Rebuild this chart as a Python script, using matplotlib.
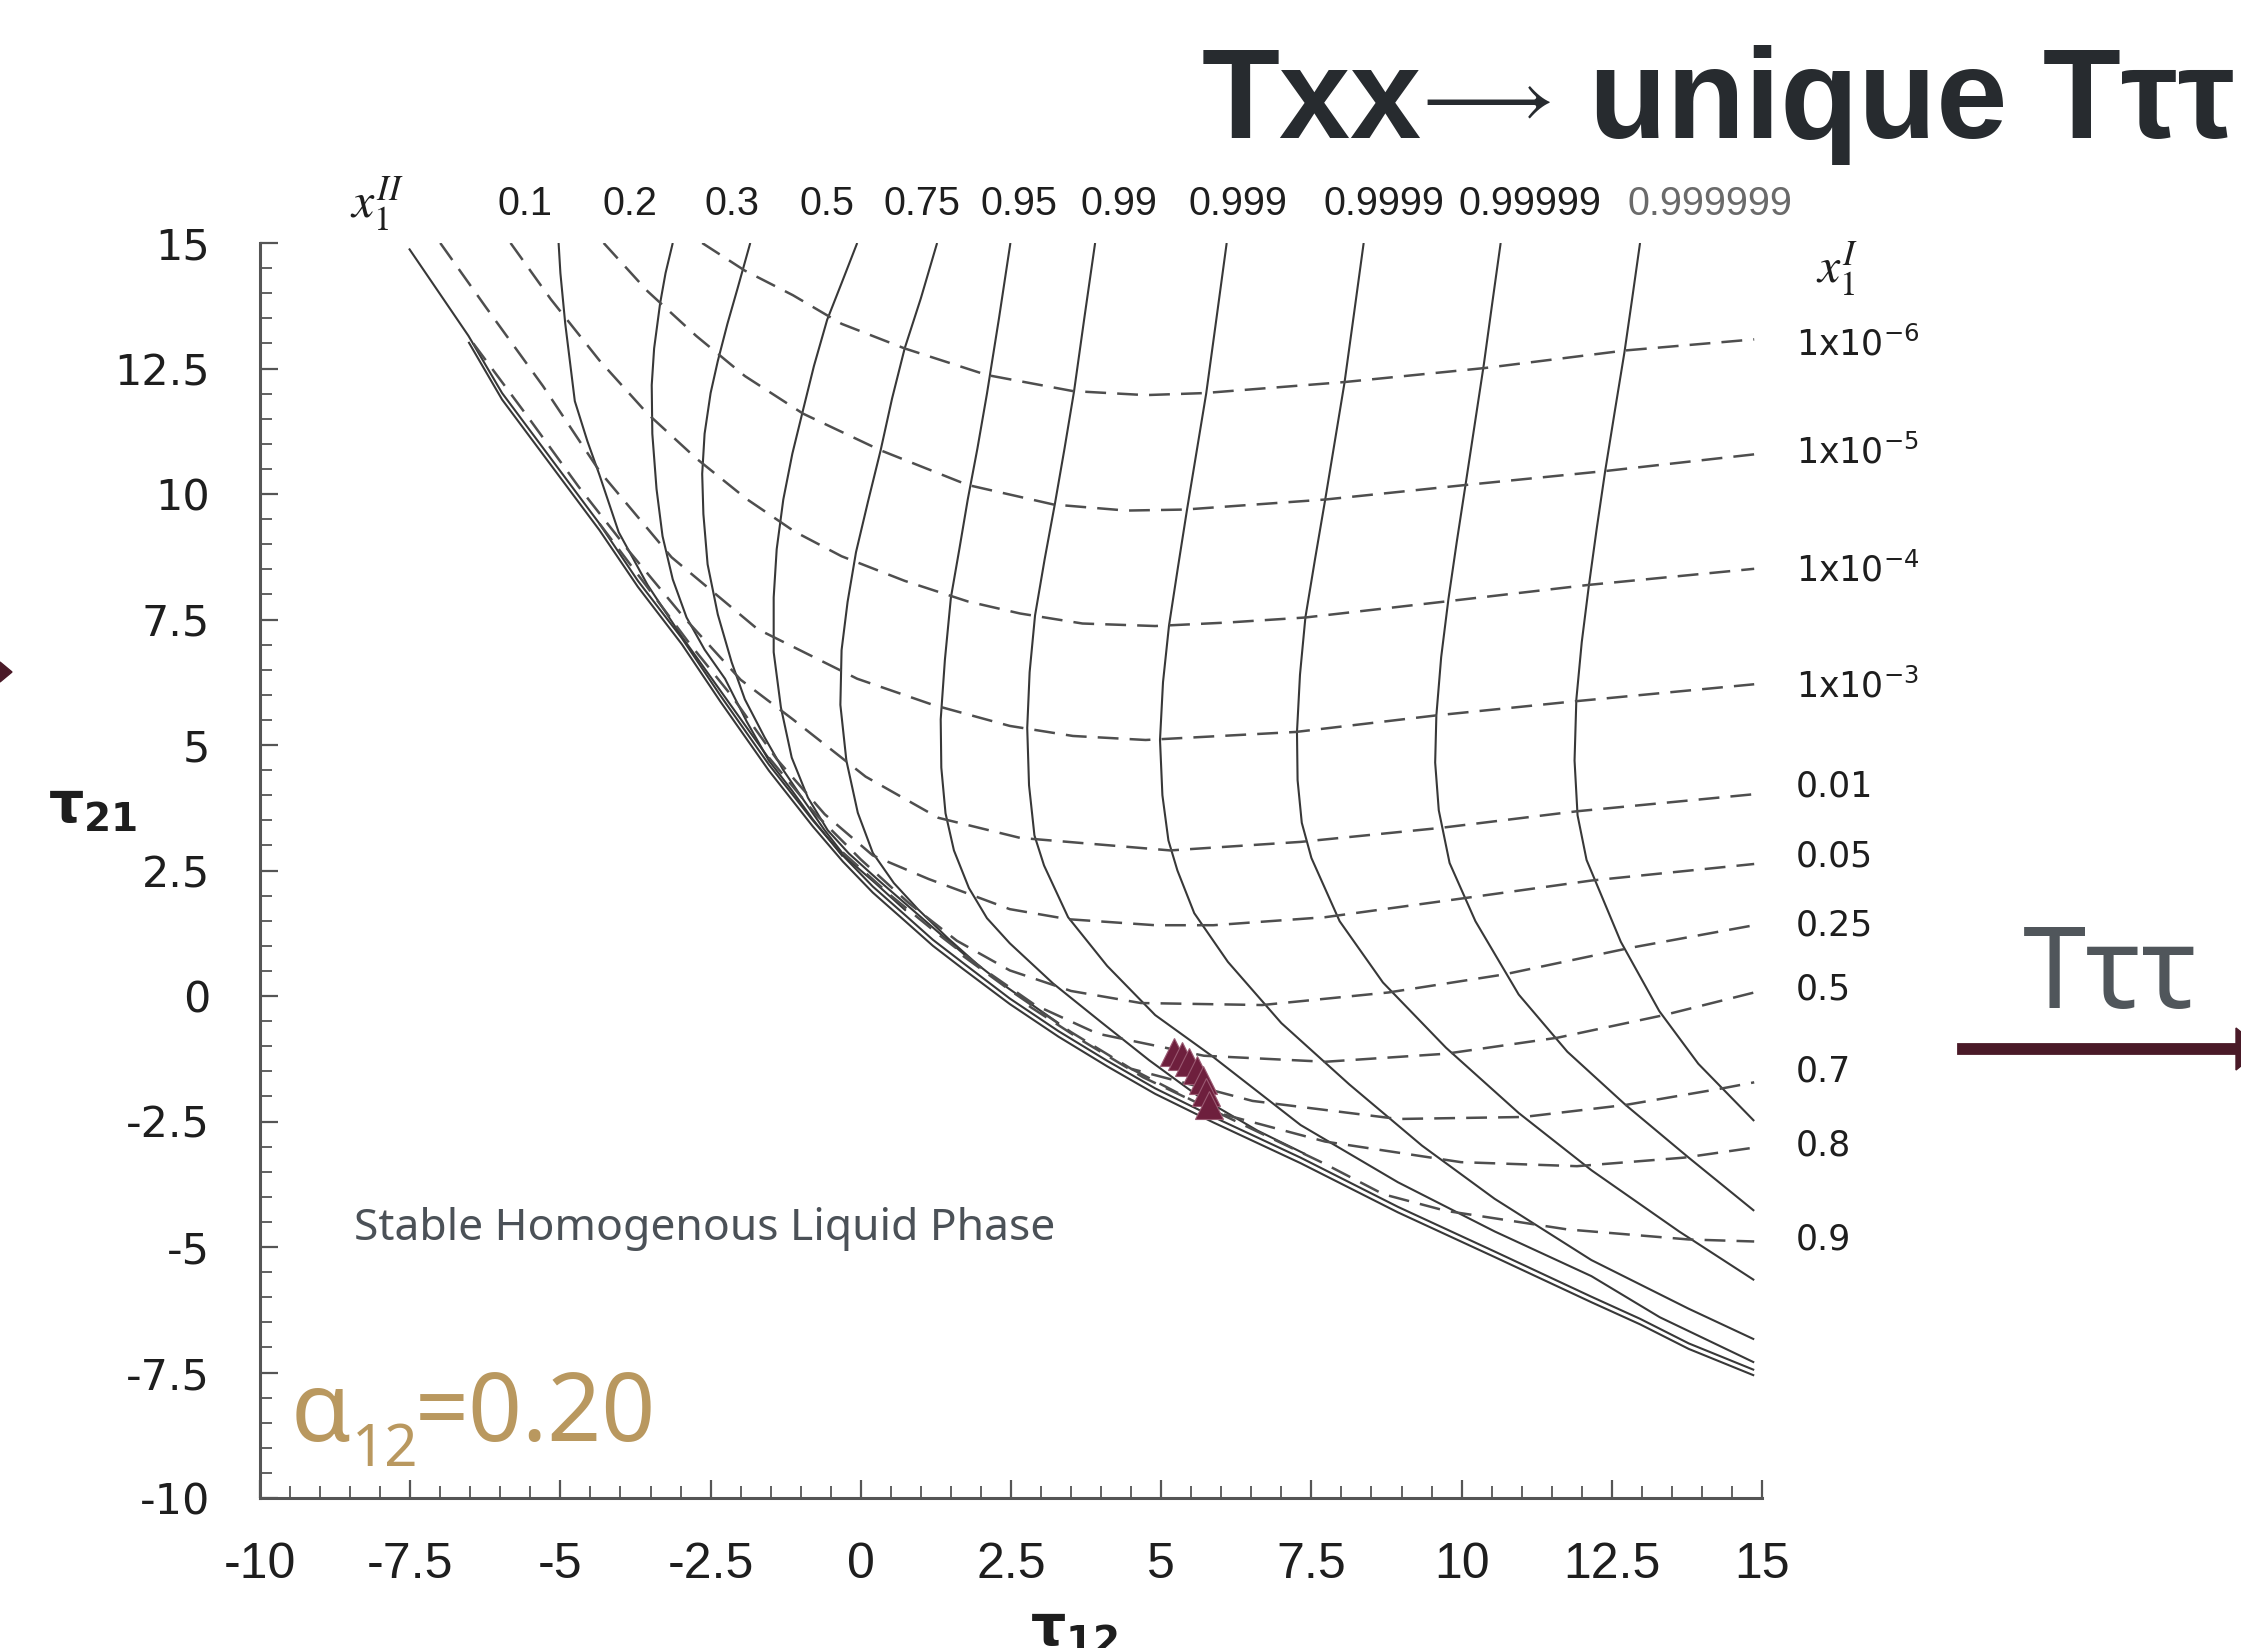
import numpy as np
import matplotlib
matplotlib.use("Agg")
import matplotlib.pyplot as plt
from matplotlib.ticker import MultipleLocator, FixedLocator
from matplotlib.patches import Polygon
from matplotlib.lines import Line2D

plt.rcParams['lines.scale_dashes'] = False

# ---------------- data (tau12, tau21) ----------------
# envelope (limit of liquid-liquid splitting)
env_t12 = [-7.52, -6.53, -5.97, -5.16, -4.35, -3.71, -2.98, -2.34, -1.53, -0.80, -0.30, 0.20, 0.73, 1.20, 1.70, 2.48, 3.29, 4.10, 4.90, 5.87, 7.32, 8.94, 10.55, 12.16, 12.97, 13.78, 14.87]
env_t21 = [14.89, 13.15, 12.01, 10.71, 9.41, 8.27, 7.13, 5.99, 4.61, 3.50, 2.80, 2.18, 1.62, 1.12, 0.66, -0.05, -0.70, -1.29, -1.84, -2.41, -3.22, -4.20, -5.09, -5.99, -6.43, -6.92, -7.45]
env2_t12 = [-6.53, -5.97, -5.16, -4.35, -3.71, -2.98, -2.34, -1.53, -0.80, -0.30, 0.20, 0.73, 1.20, 1.70, 2.48, 3.29, 4.10, 4.90, 5.87, 7.32, 8.94, 10.55, 12.16, 12.97, 13.78, 14.87]
env2_t21 = [13.03, 11.88, 10.58, 9.28, 8.15, 7.01, 5.87, 4.49, 3.38, 2.68, 2.06, 1.50, 1.00, 0.54, -0.16, -0.81, -1.40, -1.95, -2.52, -3.33, -4.31, -5.20, -6.10, -6.54, -7.03, -7.56]

# solid lines: constant x1^II
xII_labels = ['0.1', '0.2', '0.3', '0.5', '0.75', '0.95', '0.99', '0.999', '0.9999', '0.99999', '0.999999']
s01_t12 = [-5.03, -5.00, -4.92, -4.76, -4.55, -4.35, -4.03, -3.55, -2.98, -2.30, -1.50]
s01_t21 = [15.0, 14.40, 13.40, 11.85, 11.05, 10.38, 9.24, 8.19, 7.16, 6.02, 4.68]
s02_t12 = [-3.13, -3.25, -3.34, -3.44, -3.48, -3.47, -3.40, -3.30, -3.13, -2.90, -2.60, -2.26, -1.90, -1.53, -1.15, -0.80, -0.30]
s02_t21 = [15.0, 14.40, 13.80, 12.90, 12.17, 11.20, 10.10, 9.16, 8.30, 7.54, 6.90, 6.32, 5.47, 4.69, 4.10, 3.52, 2.78]
s03_t12 = [-1.84, -2.05, -2.22, -2.38, -2.50, -2.60, -2.64, -2.62, -2.55, -2.38, -2.15, -1.93, -1.60, -1.29, -0.95, -0.60, -0.25, 0.25, 0.75]
s03_t21 = [15.0, 14.10, 13.39, 12.65, 12.01, 11.20, 10.40, 9.60, 8.60, 7.60, 6.65, 5.91, 5.15, 4.50, 3.90, 3.30, 2.76, 2.24, 1.70]
s05_t12 = [-0.06, -0.32, -0.56, -0.78, -0.96, -1.14, -1.29, -1.40, -1.45, -1.45, -1.33, -1.15, -0.88, -0.55, -0.20, 0.30, 0.80, 1.30, 1.75]
s05_t21 = [15.0, 14.20, 13.47, 12.55, 11.68, 10.80, 9.89, 8.90, 7.94, 6.85, 5.75, 4.75, 3.95, 3.30, 2.84, 2.30, 1.78, 1.26, 0.80]
s075_t12 = [1.27, 1.00, 0.73, 0.52, 0.33, 0.12, -0.08, -0.22, -0.32, -0.34, -0.24, -0.05, 0.20, 0.55, 0.95, 1.45, 1.95, 2.40, 3.30]
s075_t21 = [15.0, 13.90, 12.90, 11.90, 10.87, 9.85, 8.84, 7.85, 6.89, 5.80, 4.69, 3.65, 2.85, 2.25, 1.73, 1.15, 0.62, 0.20, -0.55]
s095_t12 = [2.49, 2.30, 2.10, 1.94, 1.78, 1.64, 1.50, 1.40, 1.33, 1.34, 1.41, 1.55, 1.80, 2.10, 2.48, 3.20, 4.00, 4.80, 5.60, 6.60, 7.40]
s095_t21 = [15.0, 13.50, 12.00, 10.90, 9.89, 8.90, 7.94, 6.70, 5.51, 4.55, 3.64, 2.90, 2.15, 1.55, 1.05, 0.25, -0.52, -1.28, -1.98, -2.68, -3.15]
s099_t12 = [3.90, 3.72, 3.55, 3.39, 3.23, 3.06, 2.90, 2.81, 2.77, 2.80, 2.89, 3.05, 3.45, 4.10, 4.90, 5.85, 7.32, 8.94, 10.55, 12.16, 13.30, 14.87]
s099_t21 = [15.0, 13.50, 12.05, 10.90, 9.80, 8.70, 7.58, 6.45, 5.34, 4.20, 3.20, 2.60, 1.57, 0.60, -0.38, -1.20, -2.57, -3.71, -4.69, -5.58, -6.40, -7.30]
s0999_t12 = [6.09, 5.92, 5.75, 5.59, 5.43, 5.28, 5.13, 5.03, 4.98, 5.02, 5.12, 5.27, 5.55, 6.11, 7.00, 8.13, 9.34, 10.55, 12.16, 13.78, 14.87]
s0999_t21 = [15.0, 13.50, 12.01, 10.85, 9.69, 8.55, 7.38, 6.25, 5.10, 4.00, 3.10, 2.50, 1.65, 0.68, -0.54, -1.76, -2.98, -4.04, -5.26, -6.23, -6.84]
s09999_t12 = [8.37, 8.21, 8.05, 7.89, 7.73, 7.56, 7.40, 7.31, 7.26, 7.27, 7.34, 7.50, 7.97, 8.69, 9.74, 10.95, 12.16, 13.62, 14.87]
s09999_t21 = [15.0, 13.60, 12.21, 11.05, 9.89, 8.70, 7.54, 6.40, 5.26, 4.30, 3.45, 2.75, 1.49, 0.27, -1.03, -2.33, -3.47, -4.69, -5.66]
s099999_t12 = [10.65, 10.51, 10.37, 10.22, 10.07, 9.92, 9.78, 9.66, 9.58, 9.56, 9.62, 9.80, 10.23, 10.95, 11.76, 12.73, 13.78, 14.87]
s099999_t21 = [15.0, 13.80, 12.58, 11.40, 10.22, 9.05, 7.90, 6.75, 5.59, 4.65, 3.70, 2.65, 1.49, 0.03, -1.11, -2.17, -3.22, -4.28]
s0999999_t12 = [12.97, 12.84, 12.71, 12.55, 12.39, 12.25, 12.12, 12.00, 11.91, 11.88, 11.93, 12.08, 12.65, 13.29, 13.94, 14.87]
s0999999_t21 = [15.0, 13.90, 12.82, 11.65, 10.46, 9.32, 8.19, 7.05, 5.91, 4.69, 3.60, 2.71, 1.08, -0.30, -1.35, -2.49]

# dashed lines: constant x1^I
xI_labels = ['1x10$^{\\mathregular{-6}}$', '1x10$^{\\mathregular{-5}}$', '1x10$^{\\mathregular{-4}}$',
             '1x10$^{\\mathregular{-3}}$', '0.01', '0.05', '0.25', '0.5', '0.7', '0.8', '0.9']
d1e6_t12 = [-2.64, -1.93, -1.13, -0.32, 0.73, 2.10, 3.53, 4.74, 5.71, 8.05, 10.39, 12.73, 14.87]
d1e6_t21 = [15.0, 14.45, 13.96, 13.39, 12.90, 12.37, 12.05, 11.97, 12.01, 12.23, 12.51, 12.86, 13.08]
d1e5_t12 = [-4.28, -3.55, -2.74, -1.93, -0.96, 0.33, 1.78, 3.21, 4.42, 5.39, 7.73, 10.07, 12.41, 14.87]
d1e5_t21 = [15.0, 14.04, 13.15, 12.35, 11.60, 10.87, 10.18, 9.79, 9.67, 9.69, 9.89, 10.18, 10.46, 10.79]
d1e4_t12 = [-5.83, -5.16, -4.35, -3.55, -2.74, -1.90, -1.10, -0.32, 0.73, 1.78, 2.65, 3.69, 4.90, 6.11, 7.40, 9.74, 12.12, 14.87]
d1e4_t21 = [15.0, 13.88, 12.66, 11.60, 10.71, 9.90, 9.25, 8.76, 8.27, 7.86, 7.62, 7.42, 7.37, 7.44, 7.54, 7.86, 8.19, 8.51]
d1e3_t12 = [-7.00, -6.24, -5.29, -4.34, -3.15, -1.72, -0.06, 1.20, 2.48, 3.53, 4.74, 7.24, 9.58, 11.88, 14.87]
d1e3_t21 = [15.0, 13.72, 12.15, 10.44, 8.74, 7.31, 6.32, 5.80, 5.38, 5.18, 5.10, 5.26, 5.59, 5.87, 6.21]
d001_t12 = [-6.45, -5.55, -4.70, -3.85, -2.95, -2.00, -1.13, 0.08, 1.29, 2.65, 5.15, 7.32, 9.66, 11.92, 14.87]
d001_t21 = [13.0, 11.55, 10.15, 8.85, 7.55, 6.30, 5.51, 4.37, 3.55, 3.15, 2.90, 3.07, 3.35, 3.68, 4.02]
d005_t12 = [-4.35, -3.60, -2.85, -2.15, -1.40, -0.60, 0.20, 1.13, 2.48, 3.45, 4.90, 5.87, 7.73, 9.99, 12.16, 14.87]
d005_t21 = [9.41, 8.22, 7.02, 5.98, 4.72, 3.62, 2.80, 2.33, 1.73, 1.53, 1.41, 1.41, 1.57, 1.94, 2.30, 2.63]
d025_t12 = [-1.53, -0.75, 0.00, 0.80, 1.60, 2.48, 3.50, 4.66, 6.68, 8.78, 10.71, 12.81, 14.87]
d025_t21 = [4.75, 3.62, 2.72, 1.85, 1.10, 0.51, 0.10, -0.14, -0.18, 0.07, 0.43, 0.96, 1.41]
d05_t12 = [-0.30, 0.50, 1.30, 2.00, 2.90, 3.94, 5.71, 7.73, 9.74, 11.60, 13.37, 14.87]
d05_t21 = [2.86, 2.00, 1.22, 0.57, -0.18, -0.75, -1.19, -1.31, -1.15, -0.83, -0.38, 0.07]
d07_t12 = [1.70, 2.50, 3.50, 4.50, 6.52, 8.94, 11.03, 12.73, 14.34, 14.87]
d07_t21 = [0.80, 0.10, -0.72, -1.45, -2.09, -2.45, -2.41, -2.17, -1.84, -1.72]
d08_t12 = [2.80, 3.70, 4.70, 5.95, 7.73, 9.99, 11.92, 13.70, 14.87]
d08_t21 = [-0.20, -0.90, -1.62, -2.33, -2.90, -3.31, -3.39, -3.22, -3.02]
d09_t12 = [4.50, 5.50, 6.60, 7.70, 8.70, 9.74, 11.76, 13.78, 14.87]
d09_t21 = [-1.45, -2.07, -2.70, -3.33, -3.95, -4.28, -4.65, -4.85, -4.89]

# fitted parameter points (triangles)
tri_t12 = [5.21, 5.35, 5.47, 5.59, 5.69, 5.75, 5.79]
tri_t21 = [-1.11, -1.19, -1.31, -1.48, -1.68, -1.92, -2.17]

# axis ticks
tick_vals = [-10, -7.5, -5, -2.5, 0, 2.5, 5, 7.5, 10, 12.5, 15]
tick_labels = ['-10', '-7.5', '-5', '-2.5', '0', '2.5', '5', '7.5', '10', '12.5', '15']

# ---------------- figure ----------------
W, H = 2241, 1648
fig = plt.figure(figsize=(W / 100, H / 100), dpi=100)
fig.patch.set_facecolor('white')


def P(x, y):
    return (x / W, 1 - y / H)


ax = fig.add_axes([260 / W, 1 - 1498 / H, (1762 - 260) / W, (1498 - 243) / H])
ax.set_xlim(-10, 15)
ax.set_ylim(-10, 15)
for s in ['top', 'right']:
    ax.spines[s].set_visible(False)
for s in ['left', 'bottom']:
    ax.spines[s].set_color('#555555')
    ax.spines[s].set_linewidth(2.2)

ax.xaxis.set_major_locator(FixedLocator(tick_vals))
ax.yaxis.set_major_locator(FixedLocator(tick_vals))
ax.xaxis.set_minor_locator(MultipleLocator(0.5))
ax.yaxis.set_minor_locator(MultipleLocator(0.5))
ax.set_xticklabels(tick_labels, family='Liberation Sans', fontsize=36, color='#1e1e1e')
ax.set_yticklabels(tick_labels, family='DejaVu Sans', fontsize=31, color='#1e1e1e')
ax.tick_params(which='major', direction='in', length=13, width=1.6, color='#555555')
ax.tick_params(which='minor', direction='in', length=8.5, width=1.3, color='#555555')
ax.tick_params(axis='y', which='major', pad=36)
ax.tick_params(axis='x', which='major', pad=32)

solid_kw = dict(color='#383838', lw=1.5, solid_capstyle='butt', solid_joinstyle='round')
dash_kw = dict(color='#4e4e4e', lw=1.8, linestyle=(0, (15, 8)))

ax.plot(env_t12, env_t21, **solid_kw)
ax.plot(env2_t12, env2_t21, **solid_kw)

solid_sets = [(s01_t12, s01_t21), (s02_t12, s02_t21), (s03_t12, s03_t21), (s05_t12, s05_t21),
              (s075_t12, s075_t21), (s095_t12, s095_t21), (s099_t12, s099_t21), (s0999_t12, s0999_t21),
              (s09999_t12, s09999_t21), (s099999_t12, s099999_t21), (s0999999_t12, s0999999_t21)]
for xs, ys in solid_sets:
    ax.plot(xs, ys, **solid_kw)

dash_sets = [(d1e6_t12, d1e6_t21), (d1e5_t12, d1e5_t21), (d1e4_t12, d1e4_t21), (d1e3_t12, d1e3_t21),
             (d001_t12, d001_t21), (d005_t12, d005_t21), (d025_t12, d025_t21), (d05_t12, d05_t21),
             (d07_t12, d07_t21), (d08_t12, d08_t21), (d09_t12, d09_t21)]
for xs, ys in dash_sets:
    ax.plot(xs, ys, **dash_kw)

ax.plot(tri_t12, tri_t21, linestyle='none', marker='^', markersize=20,
        color='#6e1f3d', markeredgecolor='#9a5a72', markeredgewidth=0.8, zorder=5)

# ---------------- labels around the plot ----------------
top_x = [525, 630, 732, 827, 922, 1019, 1119, 1238, 1384, 1530, 1710]
for lab, x in zip(xII_labels, top_x):
    col = '#6a6a6a' if lab == '0.999999' else '#1e1e1e'
    fig.text(*P(x, 204), lab, family='Liberation Sans', fontsize=28.5, color=col,
             ha='center', va='center')
fig.text(*P(377, 204), r'$x_1^{II}$', math_fontfamily='stix', fontsize=36,
         color='#1e1e1e', ha='center', va='center')

right_y = [344, 452, 570, 686, 787, 857, 926, 989, 1072, 1145, 1240]
for lab, y in zip(xI_labels, right_y):
    fig.text(*P(1796, y), lab, family='DejaVu Sans', fontsize=25, color='#1e1e1e',
             ha='left', va='center')
fig.text(*P(1837, 269), r'$x_1^{I}$', math_fontfamily='stix', fontsize=36,
         color='#1e1e1e', ha='center', va='center')

fig.text(*P(48, 807), r'$\mathbf{\tau}_{\mathbf{21}}$', fontsize=40, color='#1e1e1e',
         ha='left', va='center')
fig.text(*P(1030, 1603), r'$\mathbf{\tau}_{\mathbf{12}}$', fontsize=40, color='#1e1e1e',
         ha='left', va='top')

fig.text(*P(354, 1229), 'Stable Homogenous Liquid Phase', family='Noto Sans', fontsize=32,
         color='#4b5157', ha='left', va='center')
gold = '#b9985f'
fig.text(*P(291, 1441), 'α', family='Noto Sans', fontsize=70, color=gold, ha='left', va='baseline')
fig.text(*P(352, 1466), '12', family='Noto Sans', fontsize=42, color=gold, ha='left', va='baseline')
fig.text(*P(415, 1441), '=0.20', family='Noto Sans', fontsize=68, color=gold, ha='left', va='baseline')

# slide title (three pieces so the arrow can be long and thin)
title_col = '#272b2f'
fig.text(*P(1202, 138), 'Txx', family='Liberation Sans', weight='bold', fontsize=92,
         color=title_col, ha='left', va='baseline')
fig.text(*P(1410, 121), r'$\longrightarrow$', math_fontfamily='stix', fontsize=60,
         color=title_col, ha='left', va='baseline')
fig.text(*P(1589, 138), 'unique T\u03c4\u03c4', family=['Liberation Sans', 'DejaVu Sans'],
         weight='bold', fontsize=92, color=title_col, ha='left', va='baseline')

fig.text(*P(2023, 1008), 'T\u03c4\u03c4', family='Noto Sans', fontsize=82, color='#50565b',
         ha='left', va='baseline')
fig.add_artist(Line2D([1963 / W, 2236 / W], [1 - 1049 / H, 1 - 1049 / H],
                      transform=fig.transFigure, color='#4a1a28', lw=8.5))
fig.add_artist(Polygon([P(2236, 1028), P(2236, 1070), P(2262, 1049)], closed=True,
                       transform=fig.transFigure, color='#4a1a28'))
fig.add_artist(Polygon([P(0, 662), P(0, 682), P(12, 672)], closed=True,
                       transform=fig.transFigure, color='#4a1a28'))

fig.savefig('out.png', dpi=100, facecolor='white')
